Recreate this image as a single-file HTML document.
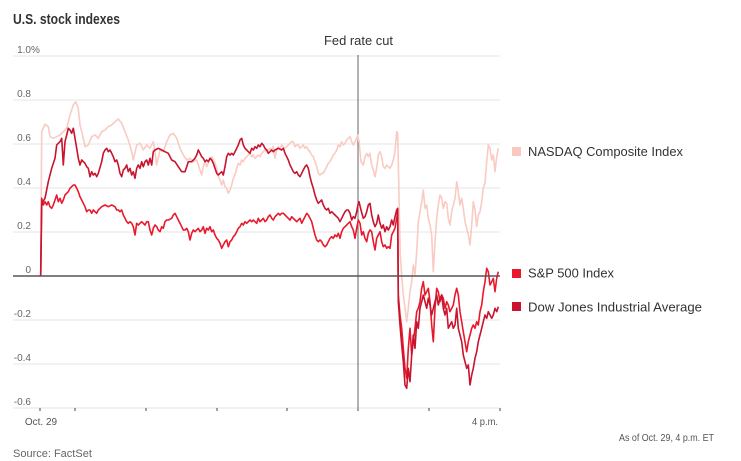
<!DOCTYPE html>
<html><head><meta charset="utf-8"><style>
html,body{margin:0;padding:0;background:#fff;}
svg{display:block;font-family:"Liberation Sans",sans-serif;}
</style></head><body>
<svg width="741" height="461" viewBox="0 0 741 461" xmlns="http://www.w3.org/2000/svg">
<rect width="741" height="461" fill="#fff"/>
<text x="13" y="24" font-size="14.5" font-weight="bold" fill="#333" textLength="107" lengthAdjust="spacingAndGlyphs">U.S. stock indexes</text>
<g stroke="#e6e6e6" stroke-width="1">
<line x1="13" x2="500" y1="56" y2="56"/><line x1="13" x2="500" y1="100" y2="100"/><line x1="13" x2="500" y1="144" y2="144"/><line x1="13" x2="500" y1="188" y2="188"/><line x1="13" x2="500" y1="232" y2="232"/><line x1="13" x2="500" y1="320" y2="320"/><line x1="13" x2="500" y1="364" y2="364"/><line x1="13" x2="500" y1="408" y2="408"/>
</g>
<g font-size="10" fill="#666" text-anchor="end">
<text x="31" y="53">1.0</text><text x="31" y="53" text-anchor="start">%</text>
<text x="31" y="97">0.8</text><text x="31" y="141">0.6</text><text x="31" y="185">0.4</text><text x="31" y="229">0.2</text><text x="31" y="273">0</text><text x="31" y="317">-0.2</text><text x="31" y="361">-0.4</text><text x="31" y="405">-0.6</text>
</g>
<g stroke="#444" stroke-width="1">
<line x1="40" x2="40" y1="408" y2="411"/><line x1="75" x2="75" y1="408" y2="411"/><line x1="146" x2="146" y1="408" y2="411"/><line x1="217" x2="217" y1="408" y2="411"/><line x1="287" x2="287" y1="408" y2="411"/><line x1="358" x2="358" y1="408" y2="411"/><line x1="429" x2="429" y1="408" y2="411"/><line x1="500" x2="500" y1="408" y2="411"/>
</g>
<line x1="358" x2="358" y1="55" y2="409" stroke="#666" stroke-width="1"/>
<text x="358.5" y="45" font-size="12.5" fill="#333" text-anchor="middle" textLength="69" lengthAdjust="spacingAndGlyphs">Fed rate cut</text>
<g fill="none" stroke-width="1.6" stroke-linejoin="round">
<polyline stroke="#f9cbc2" points="40.7,276 41.7,131.7 45,124.3 48.3,126.7 50,136.7 53.3,138.3 56.7,136.7 60,135 63.3,131.7 66.7,128.3 70,115 73.3,105 75.7,101.7 78.3,108.3 80,125 83.3,138.3 85,146.7 88.3,145 91.7,136.7 95,135 98.3,138.3 101.7,131.7 105,130 108.3,126.7 111.7,125 115,121.7 118.3,119 121.7,123.3 125,131.7 128.3,140 131.7,151.7 133.3,160 136.7,145 140,143.3 143.3,150 146.7,145 150,148.3 153.3,141.7 155,151.7 156.7,165 160,150 163.3,151.7 166.7,141.7 170,135 173.3,133.3 176.7,138.3 180,148.3 183.3,155 186.7,160 190,158.3 193.3,161.7 196.7,160 198.3,165 200,170 201.7,175 203.3,166.7 205,161.7 206.7,166.7 208.3,163.3 210,158.3 211.7,156.7 213.3,160 215,163.3 216.7,168.3 218.3,176.7 220,180 221.7,185 223.3,180 225,186.7 226.7,188.3 228.3,193.3 230,190 231.7,185 233.3,178.3 235,175 236.7,168.3 238.3,163.3 240,165 241.7,160 243.3,161.7 245,158.3 246.7,156.7 248.3,155 250,153.3 251.7,156.7 253.3,155 255,158.3 256.7,156.7 258.3,155 260,156.7 261.7,153.3 263.3,151.7 265,150 266.7,151.7 268.3,150 270,148.3 271.7,150 273.3,146.7 275,158.3 276.7,150 278.3,146.7 280,148.3 281.7,145 283.3,146.7 285,148.3 286.7,146.7 288.3,145 290,143.3 291.7,141.7 293.3,141.7 295,146.7 296.7,145 298.3,145 300,148.3 301.7,146.7 303.3,145 305,148.3 306.7,146.7 308.3,150 310,151.7 311.7,155 313.3,156.7 315,161.7 316.7,166.7 318.3,173.3 320,175 321.7,173.3 323.3,173.3 325,170 326.7,166.7 328.3,163.3 330,161.7 331.7,158.3 333.3,155 335,153.3 336.7,150 338.3,145 340,146.7 341.7,141.7 343.3,145 345,143.3 346.7,140 348.3,138.3 350,136.7 351.7,141.7 353.3,145 355,141.7 356.7,138.3 357.7,135 359,141.7 361,161.7 363.3,165 365,156.7 366.7,153.3 368.3,156.7 370,153.3 371.7,165 373.3,170 375,176.7 376.7,168.3 378.3,155 380,151.7 381.7,156.7 383.3,166.7 385,168.3 386.7,165 388.3,166.7 390,168.3 391.7,165 393.3,160 395,151.7 396.7,131.7 397.7,133.3 398.3,161.7 399.3,211.7 400.3,255 401.7,275 403.3,295 405,308.3 406.7,321.7 408.3,308.3 410,291.7 411.7,281.7 413.3,265 415,275 416.7,251.7 418.3,221.7 420,211.7 421.7,201.7 423.3,190 425,208.3 426.7,205 428.3,218.3 430,225 431.7,235 433.3,271.7 435,241.7 436.7,218.3 438.3,205 440,195 441.7,198.3 443.3,208.3 445,201.7 446.7,203.3 448.3,218.3 450,225 451.7,211.7 453.3,205 455,198.3 456.7,181.7 458.3,191.7 460,205 461.7,198.3 463.3,208.3 465,221.7 466.7,228.3 468.3,235 470,245 471.7,225 473.3,201.7 475,210 476.7,226.7 478.3,215 480,211.7 481.7,201.7 483.3,188.3 485,183.3 486.7,161.7 488.3,145 490,148.3 491.7,160 493.3,155 495,171.7 496.7,156.7 498.3,148.3"/>
<polyline stroke="#e8192c" points="40.7,276 41.7,198.3 43.3,205 45,201.7 46.7,205 48.3,201.7 50,206.7 51.7,208.3 53.3,205 55,200 56.7,195 58.3,201.7 60,198.3 61.7,203.3 63.3,200 65,195 66.7,193.3 68.3,191.7 70,188.3 71.7,186.7 73.3,185 75,185 76.7,188.3 78.3,191.7 80,196.7 81.7,200 83.3,203.3 85,206.7 86.7,211.7 88.3,210 90,210 91.7,213.3 93.3,210 95,211.7 96.7,213.3 98.3,210 100,208.3 101.7,206.7 105,205 108.3,206.7 111.7,205 115,206.7 116.7,210 118.3,210 120,211.7 121.7,210 123.3,215 125,218.3 126.7,221.7 128.3,223.3 130,221.7 131.7,223.3 133.3,226.7 135,235 136.7,223.3 138.3,225 141.7,221.7 143.3,223.3 145,225 146.7,221.7 148.3,221.7 150,230 151.7,235 153.3,228.3 155,225 156.7,226.7 158.3,230 160,231.7 161.7,226.7 163.3,228.3 165,221.7 166.7,220 168.3,220 171.7,218.3 173.3,215 175,213.3 176.7,216.7 178.3,220 180,223.3 181.7,226.7 183.3,230 185,230 186.7,228.3 188.3,231.7 190,240 191.7,233.3 193.3,230 195,231.7 198.3,228.3 200,231.7 201.7,230 203.3,226.7 205,233.3 206.7,228.3 208.3,230 210,226.7 211.7,231.7 213.3,230 215,235 216.7,238.3 218.3,240 220,243.3 221.7,248.3 223.3,245 225,241.7 226.7,240 228.3,246.7 230,241.7 231.7,240 233.3,236.7 235,235 236.7,231.7 238.3,228.3 240,226.7 241.7,223.3 243.3,225 245,221.7 246.7,223.3 248.3,221.7 250,220 251.7,221.7 253.3,220 255,221.7 256.7,223.3 258.3,218.3 260,221.7 261.7,220 263.3,218.3 265,221.7 266.7,220 268.3,216.7 270,215 271.7,218.3 273.3,220 275,216.7 276.7,215 278.3,213.3 280,215 281.7,213.3 283.3,213.3 285,215 286.7,216.7 288.3,218.3 290,220 291.7,216.7 293.3,218.3 295,220 296.7,221.7 298.3,220 300,218.3 301.7,223.3 303.3,220 305,216.7 306.7,213.3 308.3,215 310,218.3 311.7,221.7 313.3,228.3 315,235 316.7,240 318.3,241.7 320,240 321.7,241.7 323.3,245 325,246.7 326.7,245 328.3,241.7 330,238.3 331.7,236.7 333.3,238.3 335,235 336.7,236.7 338.3,233.3 340,238.3 341.7,231.7 343.3,228.3 345,226.7 346.7,225 348.3,223.3 350,221.7 351.7,226.7 353.3,230 355,238.3 356.7,228.3 358.3,220 360,223.3 361.7,235 363.3,231.7 365,238.3 366.7,241.7 368.3,233.3 370,230 371.7,231.7 373.3,241.7 375,250 376.7,238.3 378.3,235 380,231.7 381.7,241.7 383.3,246.7 385,245 386.7,248.3 388.3,246.7 390,248.3 391.7,235 393.3,231.7 395,228.3 396.7,218.3 397.7,211.7 398.3,295 400,315 401.7,328.3 403.3,348.3 405,368.3 406.7,378.3 408.3,348.3 410,328.3 411.7,355 413.3,341.7 415,328.3 416.7,311.7 418.3,308.3 420,301.7 421.7,288.3 423.3,281.7 425,295 426.7,291.7 428.3,288.3 430,301.7 431.7,325 433.3,341.7 435,308.3 436.7,288.3 438.3,291.7 440,301.7 441.7,295 443.3,298.3 445,308.3 446.7,301.7 448.3,305 450,311.7 451.7,308.3 453.3,305 455,295 456.7,288.3 458.3,295 460,311.7 461.7,321.7 463.3,331.7 465,341.7 466.7,351.7 468.3,341.7 470,335 471.7,328.3 473.3,325 475,328.3 476.7,321.7 478.3,325 480,311.7 481.7,305 483.3,291.7 485,281.7 486.7,268.3 488.3,271.7 490,285 491.7,281.7 493.3,278.3 495,291.7 496.7,278.3 498.3,271.7"/>
<polyline stroke="#c8142e" points="40.7,276 41.7,205 43.3,201 45,198.3 48.3,181.7 51.7,168.3 55,158.3 56.7,145 58.3,143.3 60,141.7 61.7,138.3 63.3,165 65,141.7 66.7,135 68.3,128.3 70,130 71.7,133.3 73.3,128.3 75,138.3 76.7,148.3 78.3,158.3 80,165 81.7,160 85,163.3 86.7,166.7 88.3,168.3 90,176.7 91.7,171.7 93.3,175 95,173.3 96.7,176.7 98.3,173.3 101.7,161.7 103.3,153.3 105,150 106.7,148.3 108.3,151.7 110,150 111.7,153.3 113.3,156.7 115,161.7 116.7,160 118.3,165 120,173.3 121.7,176.7 123.3,170 125,168.3 126.7,165 128.3,171.7 130,168.3 131.7,175 133.3,171.7 135,178.3 136.7,168.3 138.3,165 140,168.3 141.7,161.7 143.3,166.7 145,161.7 146.7,160 148.3,165 150,158.3 151.7,165 153.3,151.7 155,150 158.3,148.3 161.7,150 165,151.7 168.3,153.3 170,156.7 171.7,160 175,161.7 178.3,166.7 181.7,171.7 185,171.7 186.7,166.7 188.3,161.7 191.7,161.7 195,158.3 196.7,155 198.3,150 200,153.3 201.7,156.7 203.3,158.3 205,161.7 206.7,160 208.3,161.7 210,158.3 211.7,160 213.3,163.3 215,168.3 216.7,173.3 218.3,175 220,173.3 221.7,171.7 223.3,175 225,166.7 226.7,156.7 228.3,153.3 230,155 231.7,153.3 233.3,155 235,151.7 236.7,148.3 238.3,145 240,140 241.7,138.3 243.3,145 245,148.3 246.7,150 248.3,151.7 250,153.3 251.7,148.3 253.3,150 255,146.7 256.7,148.3 258.3,145 260,146.7 261.7,143.3 263.3,145 265,148.3 266.7,150 268.3,153.3 270,151.7 271.7,150 273.3,151.7 275,150 278.3,148.3 281.7,150 283.3,148.3 285,153.3 286.7,156.7 288.3,160 290,165 291.7,168.3 293.3,171.7 295,173.3 296.7,171.7 298.3,175 300,176.7 301.7,173.3 303.3,170 305,166.7 306.7,165 308.3,168.3 310,176.7 311.7,183.3 313.3,188.3 315,195 316.7,200 318.3,203.3 320,201.7 321.7,200 323.3,205 325,208.3 326.7,210 328.3,208.3 330,213.3 331.7,211.7 333.3,213.3 335,215 336.7,216.7 338.3,218.3 340,221.7 341.7,218.3 343.3,215 345,211.7 346.7,210 348.3,210 350,213.3 351.7,220 353.3,216.7 355,218.3 356.7,211.7 358.3,203.3 359,201.7 361,210 363.3,218.3 365,216.7 366.7,211.7 368.3,205 370,203.3 371.7,215 373.3,221.7 375,226.7 376.7,223.3 378.3,215 380,223.3 381.7,228.3 383.3,225 385,231.7 386.7,226.7 388.3,230 390,226.7 391.7,220 393.3,225 395,216.7 396.7,210 397.7,208.3 398.3,301.7 400,325 401.7,345 403.3,361.7 405,385 406.7,388.3 408.3,368.3 410,381.7 411.7,355 413.3,335 415,348.3 416.7,321.7 418.3,328.3 420,308.3 421.7,301.7 423.3,295 425,301.7 426.7,308.3 428.3,298.3 430,305 431.7,315 435,301.7 436.7,295 438.3,305 440,298.3 441.7,295 443.3,308.3 445,315 446.7,308.3 448.3,328.3 450,325 451.7,321.7 453.3,328.3 455,325 456.7,308.3 458.3,328.3 460,335 461.7,341.7 463.3,355 465,361.7 466.7,368.3 468.3,365 470,385 471.7,375 473.3,368.3 475,358.3 476.7,351.7 478.3,341.7 480,335 481.7,328.3 483.3,321.7 485,315 486.7,318.3 488.3,311.7 490,315 491.7,318.3 493.3,315 495,308.3 496.7,311.7 498.3,306.7"/>
</g>
<line x1="13" x2="500" y1="276" y2="276" stroke="#555" stroke-width="1.5"/>
<text x="41" y="425" font-size="10" fill="#555" text-anchor="middle">Oct. 29</text>
<text x="498" y="425" font-size="10" fill="#555" text-anchor="end" textLength="26" lengthAdjust="spacingAndGlyphs">4 p.m.</text>
<text x="714" y="441" font-size="10" fill="#555" text-anchor="end" textLength="95" lengthAdjust="spacingAndGlyphs">As of Oct. 29, 4 p.m. ET</text>
<text x="13" y="457" font-size="11" fill="#666">Source: FactSet</text>
<rect x="512" y="147" width="9" height="9" fill="#fbc8c0"/>
<text x="528" y="156" font-size="13" fill="#333" textLength="155" lengthAdjust="spacingAndGlyphs">NASDAQ Composite Index</text>
<rect x="512" y="269" width="9" height="9" fill="#e8192c"/>
<text x="528" y="277.5" font-size="13" fill="#333" textLength="86" lengthAdjust="spacingAndGlyphs">S&amp;P 500 Index</text>
<rect x="512" y="302" width="9" height="9" fill="#c8142e"/>
<text x="528" y="311.5" font-size="13" fill="#333" textLength="174" lengthAdjust="spacingAndGlyphs">Dow Jones Industrial Average</text>
</svg>
</body></html>
